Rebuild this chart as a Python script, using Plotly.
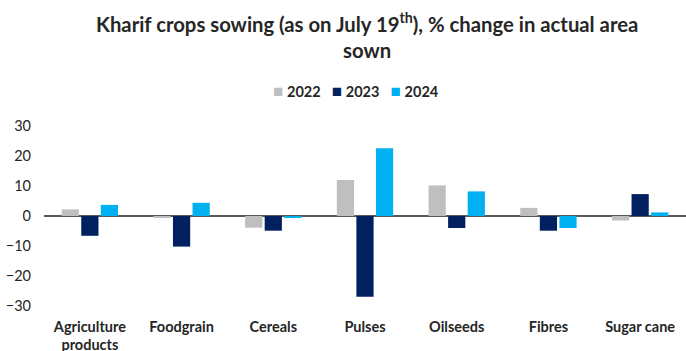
import plotly.graph_objects as go

categories = ["Agriculture<br>products", "Foodgrain", "Cereals", "Pulses", "Oilseeds", "Fibres", "Sugar cane"]
series_names = ["2022", "2023", "2024"]
y2022 = [2.2, -0.5, -3.9, 12.0, 10.2, 2.7, -1.5]
y2023 = [-6.6, -10.2, -4.9, -26.9, -4.0, -4.9, 7.3]
y2024 = [3.7, 4.4, -0.5, 22.6, 8.2, -4.0, 1.2]
colors = ["#BFBFBF", "#002060", "#00B0F0"]
ytick_vals = [-30, -20, -10, 0, 10, 20, 30]
title_text = "Kharif crops sowing (as on July 19<sup>th</sup>), % change in actual area<br>sown"

FONT = "Lato"
TXT = "#262626"
fig = go.Figure()
for name, vals, col in zip(series_names, [y2022, y2023, y2024], colors):
    fig.add_trace(go.Bar(x=categories, y=vals, name=name,
                         marker=dict(color=col, line=dict(width=0))))

fig.update_layout(
    width=686, height=351,
    margin=dict(l=44, r=0, t=126, b=45, autoexpand=False),
    paper_bgcolor="white", plot_bgcolor="white",
    barmode="group", bargap=0.36, bargroupgap=0.12,
    showlegend=False,
    font=dict(family=FONT, size=14, color=TXT),
)
# title
fig.add_annotation(text="<b>" + title_text + "</b>", xref="paper", yref="paper",
                   x=0.503, y=1.505, xanchor="center", yanchor="middle", showarrow=False,
                   font=dict(family=FONT, size=20.3, color=TXT))
# legend built from text keys
legend_html = "&nbsp;&nbsp;&nbsp;".join(
    f"<span style='color:{c};font-size:17px'>■</span>&nbsp;<b>{n}</b>" for n, c in zip(series_names, colors))
fig.add_annotation(text=legend_html, xref="paper", yref="paper", x=0.486, y=1.2,
                   xanchor="center", yanchor="middle", showarrow=False,
                   font=dict(family=FONT, size=14.5, color=TXT))
fig.update_xaxes(showgrid=False, showline=False, ticks="", ticklabelstandoff=10, automargin=False,
                 tickfont=dict(family=FONT, size=14.5, color=TXT),
                 tickprefix="<b>", ticksuffix="</b>")
fig.update_yaxes(range=[-30, 30], tickvals=ytick_vals, showgrid=False, zeroline=True, automargin=False,
                 zerolinecolor="#595959", zerolinewidth=1.5, showline=False,
                 tickfont=dict(family=FONT, size=14.5, color=TXT), ticklabelstandoff=12,
                 tickprefix="<b>", ticksuffix="</b>")
fig.write_html("out.html")
